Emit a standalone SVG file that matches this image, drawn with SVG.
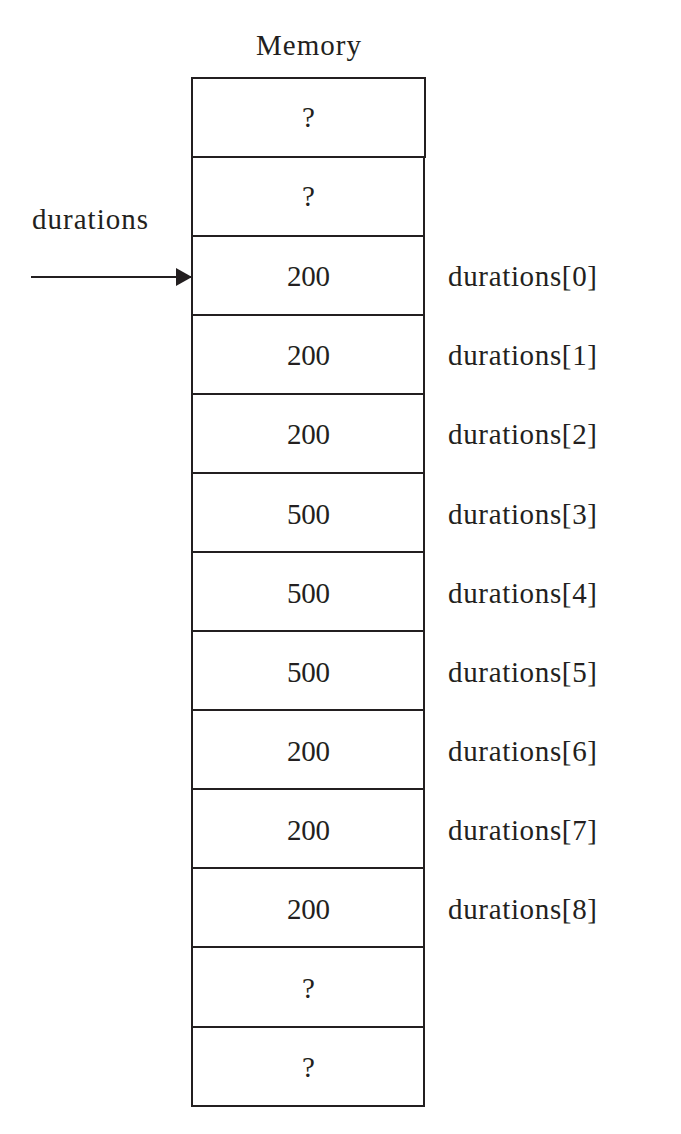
<svg xmlns="http://www.w3.org/2000/svg" width="681" height="1134" viewBox="0 0 681 1134">
<style>
text{font-family:"Liberation Serif","Times New Roman",serif;font-size:29px;fill:#231f20}
.c{text-anchor:middle}
rect{fill:#fff;stroke:#231f20;stroke-width:2}
.conn{stroke:#231f20;stroke-width:2;fill:none}
</style>
<defs>
<marker id="ah" markerWidth="16" markerHeight="18" refX="16" refY="9" orient="auto" markerUnits="userSpaceOnUse">
<path d="M0,0 L16,9 L0,18 Z" fill="#231f20"/>
</marker>
</defs>
<rect width="681" height="1134" fill="#fff" style="stroke:none"/>
<text class="c" x="308.5" y="55" textLength="105">Memory</text>
<text x="32" y="229" textLength="116">durations</text>
<g id="connectors">
<line class="conn" x1="31" y1="277" x2="192" y2="277" marker-end="url(#ah)"/>
</g>
<g id="cell0"><rect x="192" y="78" width="233" height="79"/><text class="c" x="308.5" y="127">?</text></g>
<g id="cell1"><rect x="192" y="157" width="232" height="79"/><text class="c" x="308.5" y="206">?</text></g>
<g id="cell2"><rect x="192" y="236" width="232" height="79"/><text class="c" x="308.5" y="286" textLength="43">200</text><text x="448" y="286" textLength="149">durations[0]</text></g>
<g id="cell3"><rect x="192" y="315" width="232" height="79"/><text class="c" x="308.5" y="365" textLength="43">200</text><text x="448" y="365" textLength="149">durations[1]</text></g>
<g id="cell4"><rect x="192" y="394" width="232" height="79"/><text class="c" x="308.5" y="444" textLength="43">200</text><text x="448" y="444" textLength="149">durations[2]</text></g>
<g id="cell5"><rect x="192" y="473" width="232" height="79"/><text class="c" x="308.5" y="524" textLength="43">500</text><text x="448" y="524" textLength="149">durations[3]</text></g>
<g id="cell6"><rect x="192" y="552" width="232" height="79"/><text class="c" x="308.5" y="603" textLength="43">500</text><text x="448" y="603" textLength="149">durations[4]</text></g>
<g id="cell7"><rect x="192" y="631" width="232" height="79"/><text class="c" x="308.5" y="682" textLength="43">500</text><text x="448" y="682" textLength="149">durations[5]</text></g>
<g id="cell8"><rect x="192" y="710" width="232" height="79"/><text class="c" x="308.5" y="761" textLength="43">200</text><text x="448" y="761" textLength="149">durations[6]</text></g>
<g id="cell9"><rect x="192" y="789" width="232" height="79"/><text class="c" x="308.5" y="840" textLength="43">200</text><text x="448" y="840" textLength="149">durations[7]</text></g>
<g id="cell10"><rect x="192" y="868" width="232" height="79"/><text class="c" x="308.5" y="919" textLength="43">200</text><text x="448" y="919" textLength="149">durations[8]</text></g>
<g id="cell11"><rect x="192" y="947" width="232" height="80"/><text class="c" x="308.5" y="998">?</text></g>
<g id="cell12"><rect x="192" y="1027" width="232" height="79"/><text class="c" x="308.5" y="1077">?</text></g>
</svg>
